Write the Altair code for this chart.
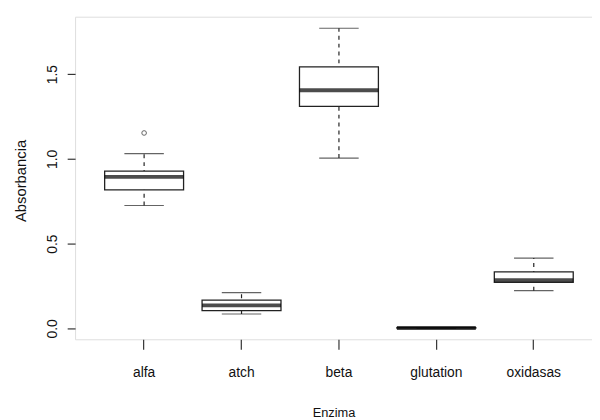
import altair as alt
import pandas as pd

enzimas = ["alfa", "atch", "beta", "glutation", "oxidasas"]
whisker_lo = [0.725, 0.085, 1.005, 0.002, 0.223]
q1 = [0.818, 0.105, 1.310, 0.002, 0.272]
median = [0.894, 0.136, 1.405, 0.003, 0.285]
q3 = [0.928, 0.167, 1.543, 0.004, 0.333]
whisker_hi = [1.031, 0.211, 1.771, 0.004, 0.415]
outlier_enzima = ["alfa"]
outlier_value = [1.153]
y_ticks = [0.0, 0.5, 1.0, 1.5]

df = pd.DataFrame({"Enzima": enzimas, "lo": whisker_lo, "q1": q1,
                   "med": median, "q3": q3, "hi": whisker_hi})
out = pd.DataFrame({"Enzima": outlier_enzima, "v": outlier_value})

FONT = "Liberation Sans"

x = alt.X("Enzima:N", sort=enzimas,
          scale=alt.Scale(domain=enzimas, paddingInner=0, paddingOuter=0.1532, align=0.681),
          axis=alt.Axis(title="Enzima", labelAngle=0, domain=False, grid=False,
                        tickSize=10, tickColor="#333", tickWidth=1.2,
                        labelFont=FONT, labelFontSize=14, labelColor="#111",
                        labelPadding=17, labelBaseline="top",
                        titleFont=FONT, titleFontSize=13, titleFontWeight="normal",
                        titleColor="#111", titleBaseline="alphabetic", titleY=78))
yscale = alt.Scale(domain=[-0.064, 1.839], nice=False, zero=False)
yaxis = alt.Axis(title="Absorbancia", values=y_ticks, format=".1f", domain=False, grid=False,
                 tickSize=8, tickColor="#333", tickWidth=1.2,
                 labelAngle=270, labelAlign="center", labelBaseline="bottom",
                 labelPadding=8, labelFont=FONT, labelFontSize=14, labelColor="#111",
                 titleFont=FONT, titleFontSize=15, titleFontWeight="normal", titleColor="#111",
                 titleAngle=270, titleAlign="center", titleBaseline="middle",
                 titleX=-55, titleY=166)

base = alt.Chart(df)
whisk = base.mark_rule(color="#222", strokeWidth=1.2, strokeDash=[4, 4]).encode(
    x=x, y=alt.Y("lo:Q", scale=yscale, axis=yaxis), y2="hi:Q")
box = base.mark_bar(size=80, fill="white", stroke="#222", strokeWidth=1.3).encode(
    x=x, y=alt.Y("q1:Q", scale=yscale), y2="q3:Q")
cap_lo = base.mark_tick(size=40, thickness=1.2, color="#222").encode(
    x=x, y=alt.Y("lo:Q", scale=yscale))
cap_hi = base.mark_tick(size=40, thickness=1.2, color="#222").encode(
    x=x, y=alt.Y("hi:Q", scale=yscale))
med = base.mark_tick(size=80, thickness=4, color="black").encode(
    x=x, y=alt.Y("med:Q", scale=yscale))
pts = alt.Chart(out).mark_point(shape="circle", filled=False, size=22, color="#222",
                                strokeWidth=1).encode(
    x=x, y=alt.Y("v:Q", scale=yscale))

chart = alt.layer(whisk, box, cap_lo, cap_hi, med, pts).properties(
    width=524, height=327,
    autosize=alt.AutoSizeParams(type="none"),
    padding={"left": 68, "top": 6, "right": 0, "bottom": 78},
).configure_view(stroke="#333", strokeWidth=1.5).configure(background="white")

chart.save("out.html", embed_options={"renderer": "svg", "actions": False})
